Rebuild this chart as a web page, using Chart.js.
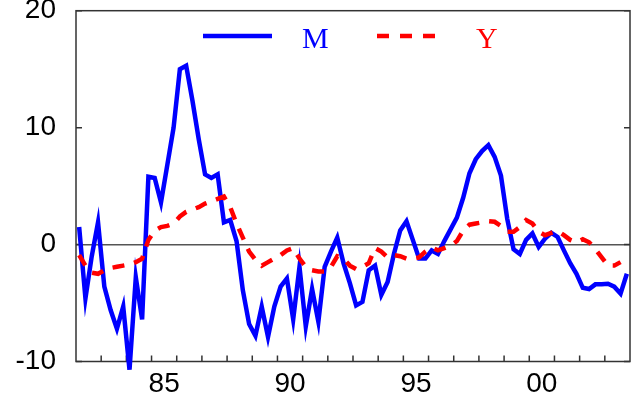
<!DOCTYPE html>
<html>
<head>
<meta charset="utf-8">
<script src="https://cdn.jsdelivr.net/npm/chart.js@4/dist/chart.umd.min.js"></script>
<style>
  html, body { margin: 0; padding: 0; background: #fff; }
</style>
</head>
<body>
<canvas id="gap-chart" width="640" height="405"></canvas>
<script>
const startYear = 1982;
const endYear = 2004;
const yTicks = [-10, 0, 10, 20];
const xTickYears = [1985, 1990, 1995, 2000];
const xTickLabels = ["85", "90", "95", "00"];

// quarterly values, 1982Q1 .. 2003Q4
const seriesM = [
  1.5, -4.6, -1.0, 1.9, -3.6, -5.6, -7.2, -5.3, -10.7, -2.8, -6.4, 5.8,
  5.7, 3.6, 6.8, 10.0, 15.0, 15.3, 12.3, 9.0, 6.0, 5.7, 6.0, 1.9,
  2.1, 0.3, -3.9, -6.8, -7.8, -5.3, -7.9, -5.3, -3.6, -2.9, -6.4, -1.9,
  -7.0, -3.8, -6.6, -1.9, -0.6, 0.6, -1.6, -3.3, -5.2, -4.9, -2.2, -1.8,
  -4.3, -3.2, -0.8, 1.2, 2.0, 0.4, -1.2, -1.2, -0.5, -0.8, 0.3, 1.3,
  2.3, 4.0, 6.1, 7.3, 8.0, 8.5, 7.5, 5.9, 2.2, -0.4, -0.8, 0.4,
  0.95, -0.2, 0.5, 1.0, 0.65, -0.5, -1.6, -2.5, -3.7, -3.8, -3.4, -3.4,
  -3.35, -3.6, -4.2, -2.5
];
const seriesY = [
  -0.9, -1.8, -2.4, -2.5, -2.2, -2.0, -1.9, -1.8, -1.7, -1.5, -1.2, 0.4,
  1.2, 1.5, 1.6, 1.8, 2.4, 2.8, 3.0, 3.2, 3.5, 3.7, 3.9, 4.1,
  3.2, 1.8, 0.6, -0.6, -1.3, -1.8, -1.5, -1.2, -0.9, -0.5, -0.3, -1.2,
  -1.9, -2.2, -2.3, -2.3, -1.9, -1.0, -1.2, -1.8, -2.1, -1.9, -1.6, -0.3,
  -0.6, -1.1, -0.9, -1.0, -1.2, -1.2, -1.1, -0.6, -0.25, -0.5, -0.3, -0.1,
  0.3, 1.2, 1.7, 1.8, 1.9, 2.0, 1.95, 1.6, 1.1, 1.1, 1.5, 2.1,
  1.8, 1.1, 0.8, 1.0, 1.15, 0.8, 0.4, 0.2, 0.45, 0.2, -0.4, -1.1,
  -1.8, -1.8, -1.5, null
];

const toPoints = (arr) => arr.map((v, i) => ({ x: startYear + (i + 0.5) / 4, y: v }));

// frame, inward tick marks
const framePlugin = {
  id: "frame",
  beforeDatasetsDraw(chart) {
    const { ctx, chartArea: a, scales } = chart;
    ctx.save();
    ctx.strokeStyle = "#333";
    ctx.lineWidth = 1.5;
    ctx.beginPath();
    for (let yr = startYear + 1; yr < endYear; yr++) {
      const px = scales.x.getPixelForValue(yr);
      ctx.moveTo(px, a.bottom);
      ctx.lineTo(px, a.bottom - 6);
    }
    yTicks.forEach((v) => {
      const py = scales.y.getPixelForValue(v);
      ctx.moveTo(a.left, py);
      ctx.lineTo(a.left + 6, py);
      ctx.moveTo(a.right, py);
      ctx.lineTo(a.right - 6, py);
    });
    ctx.stroke();
    ctx.strokeRect(a.left, a.top, a.right - a.left, a.bottom - a.top);
    ctx.restore();
  },
};

// legend inside the plot
const legendPlugin = {
  id: "insideLegend",
  afterDraw(chart) {
    const { ctx } = chart;
    const items = [
      { x: 203, label: "M", color: "#0000ff", dash: [] },
      { x: 377, label: "Y", color: "#ff0000", dash: [12, 11] },
    ];
    ctx.save();
    ctx.font = '30px "Liberation Serif", "Times New Roman", serif';
    ctx.textBaseline = "alphabetic";
    items.forEach((it) => {
      ctx.strokeStyle = it.color;
      ctx.lineWidth = 4.5;
      ctx.setLineDash(it.dash);
      ctx.beginPath();
      ctx.moveTo(it.x, 36);
      ctx.lineTo(it.x + 69, 36);
      ctx.stroke();
      ctx.fillStyle = it.color;
      ctx.fillText(it.label, it.x + 99, 48);
    });
    ctx.restore();
  },
};

const noPad = (s) => {
  s.paddingTop = 0;
  s.paddingBottom = 0;
  s.paddingLeft = 0;
  s.paddingRight = 0;
};

new Chart(document.getElementById("gap-chart"), {
  type: "line",
  data: {
    datasets: [
      {
        label: "M",
        data: toPoints(seriesM),
        borderColor: "#0000ff",
        borderWidth: 4.5,
        pointRadius: 0,
        tension: 0,
        clip: false,
        order: 1,
      },
      {
        label: "Y",
        data: toPoints(seriesY),
        borderColor: "#ff0000",
        borderWidth: 4.5,
        borderDash: [12, 10],
        pointRadius: 0,
        tension: 0,
        clip: false,
        order: 0,
      },
    ],
  },
  options: {
    responsive: false,
    animation: false,
    devicePixelRatio: 1,
    layout: { padding: { top: 10.7, right: 10, left: 0, bottom: 0 } },
    plugins: {
      legend: { display: false },
      tooltip: { enabled: false },
    },
    scales: {
      x: {
        type: "linear",
        min: startYear,
        max: endYear,
        afterBuildTicks: (s) => {
          s.ticks = xTickYears.map((y) => ({ value: y + 0.5 }));
        },
        afterFit: (s) => {
          s.height = 43.5;
          noPad(s);
        },
        ticks: {
          autoSkip: false,
          maxRotation: 0,
          padding: -2,
          color: "#000",
          font: { family: '"Liberation Sans", Arial, sans-serif', size: 28 },
          callback: (v) => xTickLabels[xTickYears.indexOf(v - 0.5)],
        },
        grid: { display: false },
        border: { display: false },
      },
      y: {
        min: -10,
        max: 20,
        afterBuildTicks: (s) => {
          s.ticks = yTicks.map((v) => ({ value: v }));
        },
        afterFit: (s) => {
          s.width = 76;
          noPad(s);
        },
        ticks: {
          padding: 20,
          color: "#000",
          font: { family: '"Liberation Sans", Arial, sans-serif', size: 28 },
        },
        grid: {
          drawTicks: false,
          lineWidth: 1.5,
          color: (c) => (c.tick && c.tick.value === 0 ? "#555" : "rgba(0,0,0,0)"),
        },
        border: { display: false },
      },
    },
  },
  plugins: [framePlugin, legendPlugin],
});
</script>
</body>
</html>
